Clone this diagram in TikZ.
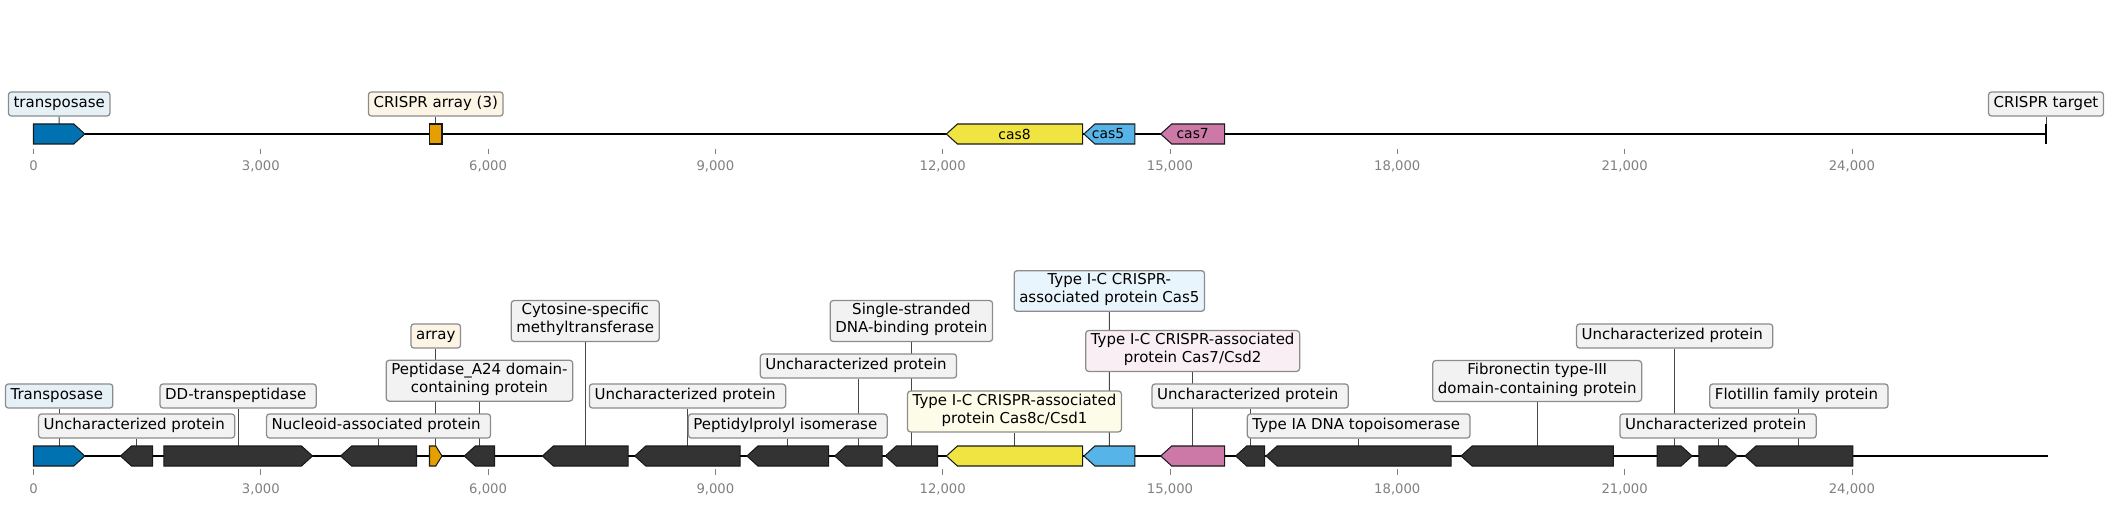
\documentclass[tikz,border=0pt]{standalone}
\usepackage{fontspec}
\setmainfont{DejaVu Sans}
\pgfdeclarelayer{bg}
\pgfsetlayers{bg,main}
\definecolor{cblue}{HTML}{0072B2}
\definecolor{corange}{HTML}{E69F00}
\definecolor{cyellow}{HTML}{F0E442}
\definecolor{csky}{HTML}{56B4E9}
\definecolor{cpink}{HTML}{CC79A7}
\definecolor{cdark}{HTML}{333333}
\definecolor{lgray}{HTML}{F2F2F2}
\definecolor{bgray}{HTML}{8C8C8C}
\definecolor{tgray}{HTML}{808080}
\tikzset{
  genebody/.style={draw=black!90, line width=0.75pt, line join=miter},
  lbl/.style={draw=bgray, line width=0.9pt, rounded corners=2.2pt, fill=lgray,
    align=center, inner xsep=3.7pt, inner ysep=2.2pt,
    font=\fontsize{10.8}{12.96}\selectfont,
    execute at begin node=\strut, execute at end node=\strut},
  stem/.style={draw=black!72, line width=0.7pt},
  mainline/.style={line width=1.6pt, draw=black},
  tickmark/.style={draw=tgray, line width=0.5pt},
  ticklbl/.style={text=tgray, font=\fontsize{9.5}{11}\selectfont, inner sep=0pt},
  genetxt/.style={font=\fontsize{10}{12}\selectfont, inner sep=0pt}
}
\newcommand\gR[5]{%
  \pgfmathsetmacro\ghd{min(11,(#2-#1)/2)}%
  \draw[genebody,fill=#4] (#1,#3) -- ({#2-\ghd},#3) -- (#2,{#3+10}) -- ({#2-\ghd},{#3+20}) -- (#1,{#3+20}) -- cycle;
  \coordinate (#5) at ({(#1+#2)/2},#3);}
\newcommand\gL[5]{%
  \pgfmathsetmacro\ghd{min(11,(#2-#1)/2)}%
  \draw[genebody,fill=#4] (#2,#3) -- ({#1+\ghd},#3) -- (#1,{#3+10}) -- ({#1+\ghd},{#3+20}) -- (#2,{#3+20}) -- cycle;
  \coordinate (#5) at ({(#1+#2)/2},#3);}
\newcommand\trsp{\kern0.318em}
\begin{document}
\begin{tikzpicture}[x=0.72pt, y=-0.72pt]
\useasboundingbox (0,0) rectangle (2110,505);

% ---------- top track ----------
\coordinate (ts) at (33.5,134);
\coordinate (te) at (2046,134);
\draw[mainline] (ts) -- (te);
\foreach \k/\lab in {0/0,1/{3,000},2/{6,000},3/{9,000},4/{12,000},5/{15,000},6/{18,000},7/{21,000},8/{24,000}}{
  \draw[tickmark] ({33.5+\k*227.3},149) -- ({33.5+\k*227.3},154);
  \node[ticklbl] (tt\k) at ({33.5+\k*227.3},166) {\lab};
}
\gR{33.5}{84.8}{124}{cblue}{tg1}
\draw[genebody,fill=corange] (429.5,124) rectangle (442,144);
\coordinate (tg2) at (435.75,124);
\gL{946.4}{1082.6}{124}{cyellow}{tg3}
\gL{1083.9}{1134.8}{124}{csky}{tg4}
\gL{1160.7}{1224.6}{124}{cpink}{tg5}
\node[genetxt] (n8) at (1014.5,134) {cas8};
\node[genetxt] (n5) at (1108,134) {cas5};
\node[genetxt] (n7) at (1192.7,134) {cas7};
\draw[line width=2pt] (2046,124) -- (2046,144);
\coordinate (tgt) at (2046,124);

\node[lbl, fill=cblue!10] (T1) at (59.2,104) {transposase};
\node[lbl, fill=corange!10] (T2) at (435.75,104) {CRISPR array (3)};
\node[lbl] (T3) at (2046,104) {CRISPR target};

% ---------- bottom track ----------
\coordinate (bs) at (33.5,456);
\coordinate (be) at (2047.5,456);
\draw[mainline] (bs) -- (be);
\foreach \k/\lab in {0/0,1/{3,000},2/{6,000},3/{9,000},4/{12,000},5/{15,000},6/{18,000},7/{21,000},8/{24,000}}{
  \draw[tickmark] ({33.5+\k*227.3},469) -- ({33.5+\k*227.3},475);
  \node[ticklbl] (bt\k) at ({33.5+\k*227.3},489) {\lab};
}
\gR{33.5}{84.8}{446}{cblue}{g1}
\gL{120.5}{152.7}{446}{cdark}{g2}
\gR{163.8}{312.5}{446}{cdark}{g3}
\gL{340.6}{416.5}{446}{cdark}{g4}
\gR{429.5}{442}{446}{corange}{g5}
\gL{464.3}{494.6}{446}{cdark}{g6}
\gL{542.4}{628.1}{446}{cdark}{g7}
\gL{634.8}{740.2}{446}{cdark}{g8}
\gL{746.9}{828.6}{446}{cdark}{g9}
\gL{834.8}{882.1}{446}{cdark}{g10}
\gL{885.3}{937.5}{446}{cdark}{g11}
\gL{946.4}{1082.6}{446}{cyellow}{g12}
\gL{1083.9}{1134.8}{446}{csky}{g13}
\gL{1160.7}{1224.6}{446}{cpink}{g14}
\gL{1235.7}{1264.7}{446}{cdark}{g15}
\gL{1266.1}{1451.2}{446}{cdark}{g16}
\gL{1461.1}{1613.3}{446}{cdark}{g17}
\gR{1657.2}{1692.1}{446}{cdark}{g18}
\gR{1698.8}{1737.3}{446}{cdark}{g19}
\gL{1745}{1852.8}{446}{cdark}{g20}

\node[lbl, fill=cblue!10] (L1) at (59.15,396) {Transposase\trsp};
\node[lbl] (L2) at (136.6,426) {Uncharacterized protein\trsp};
\node[lbl] (L3) at (238.15,396) {DD-transpeptidase\trsp};
\node[lbl] (L4) at (378.55,426) {Nucleoid-associated protein\trsp};
\node[lbl, fill=corange!10] (L5) at (435.75,336) {array};
\node[lbl] (L6) at (479.45,380.7) {Peptidase\_A24 domain-\\containing protein};
\node[lbl] (L7) at (585.25,321) {Cytosine-specific\\methyltransferase};
\node[lbl] (L8) at (687.5,396) {Uncharacterized protein\trsp};
\node[lbl] (L9) at (787.75,426) {Peptidylprolyl isomerase\trsp};
\node[lbl] (L10) at (858.45,366) {Uncharacterized protein\trsp};
\node[lbl] (L11) at (911.4,321) {Single-stranded\\DNA-binding protein};
\node[lbl, fill=cyellow!12] (L12) at (1014.5,411.5) {Type I-C CRISPR-associated\\protein Cas8c/Csd1};
\node[lbl, fill=csky!13] (L13) at (1109.35,291) {Type I-C CRISPR-\\associated protein Cas5};
\node[lbl, fill=cpink!13] (L14) at (1192.65,351) {Type I-C CRISPR-associated\\protein Cas7/Csd2};
\node[lbl] (L15) at (1250.2,396) {Uncharacterized protein\trsp};
\node[lbl] (L16) at (1358.65,426) {Type IA DNA topoisomerase\trsp};
\node[lbl] (L17) at (1537.2,381) {Fibronectin type-III\\domain-containing protein};
\node[lbl] (L18) at (1674.65,336) {Uncharacterized protein\trsp};
\node[lbl] (L19) at (1718.05,426) {Uncharacterized protein\trsp};
\node[lbl] (L20) at (1798.9,396) {Flotillin family protein\trsp};

% ---------- stems ----------
\begin{pgfonlayer}{bg}
\draw[stem] (tg1) -- (T1.south);
\draw[stem] (tg2) -- (T2.south);
\draw[stem] (tgt) -- (T3.south);
\foreach \i in {1,...,20}{
  \draw[stem] (g\i) -- (L\i.south);
}
\end{pgfonlayer}
\end{tikzpicture}
\end{document}
